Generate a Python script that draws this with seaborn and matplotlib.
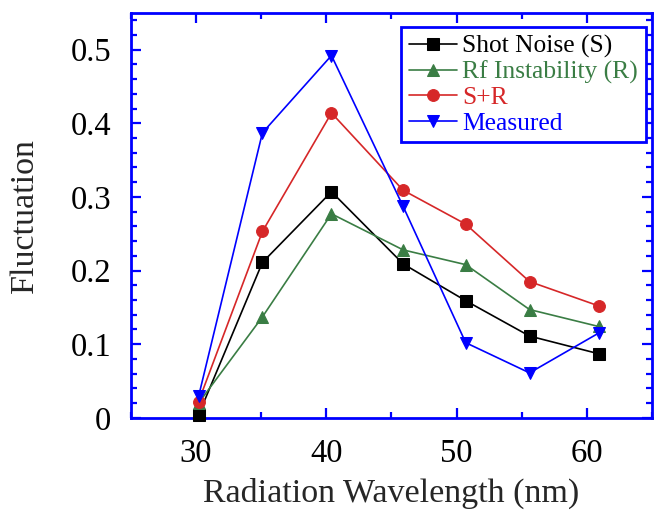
import matplotlib
matplotlib.use("Agg")
import matplotlib.pyplot as plt
import seaborn as sns
import pandas as pd
from matplotlib.ticker import MultipleLocator

# wavelength (nm)
wavelength = [30.2, 35.1, 40.4, 45.9, 50.7, 55.6, 60.9]

shot_noise = [0.004, 0.211, 0.307, 0.209, 0.159, 0.111, 0.087]
rf_instab = [0.020, 0.137, 0.277, 0.228, 0.208, 0.147, 0.124]
s_plus_r = [0.022, 0.253, 0.414, 0.309, 0.263, 0.185, 0.152]
measured = [0.029, 0.387, 0.492, 0.287, 0.102, 0.061, 0.115]

labels = ["Shot Noise (S)", "Rf Instability (R)", "S+R", "Measured"]
SERIES = [shot_noise, rf_instab, s_plus_r, measured]
COLORS = ["black", "#3a7d44", "#d62728", "#0000ff"]
MARKERS = ["s", "^", "o", "v"]

sns.set_style("ticks")
plt.rcParams["font.family"] = ["Liberation Serif", "DejaVu Serif"]

fig = plt.figure(figsize=(6.54, 5.12), dpi=100)
ax = fig.add_axes([0.2, 0.184, 0.797, 0.791])

for lab, vals, c, m in zip(labels, SERIES, COLORS, MARKERS):
    df = pd.DataFrame({"x": wavelength, "y": vals})
    sns.lineplot(data=df, x="x", y="y", ax=ax, color=c, marker=m,
                 markersize=8.5, markeredgecolor=c, linewidth=1.2,
                 label=lab, clip_on=False, zorder=3)

ax.set_xlim(25, 65)
ax.set_ylim(0, 0.55)
ax.xaxis.set_major_locator(MultipleLocator(10))
ax.xaxis.set_minor_locator(MultipleLocator(5))
ax.yaxis.set_minor_locator(MultipleLocator(0.02))
ax.set_yticks([0, 0.1, 0.2, 0.3, 0.4, 0.5])
ax.set_yticklabels(["0", "0.1", "0.2", "0.3", "0.4", "0.5"])

for s in ax.spines.values():
    s.set_color("#0000ff")
    s.set_linewidth(2.0)
ax.tick_params(which="both", direction="in", color="#0000ff", width=1.6,
               top=True, right=True, labelsize=23.5, labelcolor="black")
ax.tick_params(which="major", length=7)
ax.tick_params(which="minor", length=4.5)
ax.tick_params(axis="x", which="major", pad=15)
ax.tick_params(axis="y", which="major", pad=14)

ax.set_xlabel("Radiation Wavelength (nm)", fontsize=24.5, labelpad=6)
ax.set_ylabel("Fluctuation", fontsize=24.5, labelpad=22)

leg = ax.legend(loc="upper right", bbox_to_anchor=(0.988, 0.965), fontsize=18.4,
                frameon=True, fancybox=False, edgecolor="#0000ff",
                framealpha=1, handlelength=1.9, handletextpad=0.2,
                labelspacing=0.1, borderpad=0.3, borderaxespad=0,
                labelcolor="linecolor")
leg.get_frame().set_linewidth(2.0)

fig.savefig("out.png", dpi=100)
